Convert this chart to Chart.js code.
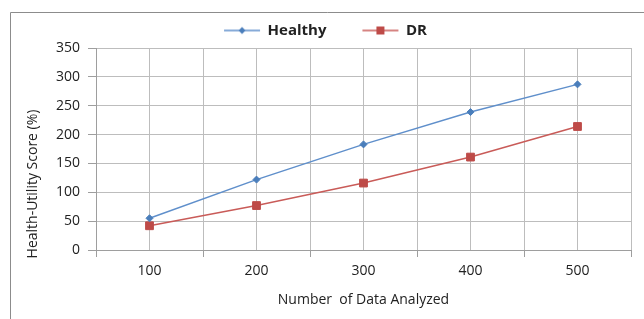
<!DOCTYPE html>
<html>
<head>
<meta charset="utf-8">
<script src="https://cdn.jsdelivr.net/npm/chart.js@4.4.0/dist/chart.umd.min.js"></script>
<style>
  html, body { margin: 0; padding: 0; background: #fff; overflow: hidden; }
</style>
</head>
<body>
<canvas id="chart" width="644" height="319"></canvas>
<script>
// valores
const categories = [100, 200, 300, 400, 500];
const healthyScores = [55, 122, 183, 239, 287];
const drScores = [42, 77, 116, 161, 214];
const seriesNames = ['Healthy', 'DR'];
const xTitle = 'Number  of Data Analyzed';
const yTitle = 'Health-Utility Score (%)';

const FONT = "'Open Sans', 'DejaVu Sans', sans-serif";
const TEXT = '#222';
const GRID = '#bdbdbd';
const AXIS = '#9e9e9e';

// icone da legenda: linha com marcador no meio
// (um pouco mais largo que a caixa, para a linha encostar no texto)
function legendIcon(lineColor, markerColor, shape) {
  const c = document.createElement('canvas');
  c.width = 50; c.height = 12;
  const g = c.getContext('2d');
  g.strokeStyle = lineColor; g.lineWidth = 1.5;
  g.beginPath(); g.moveTo(11, 6); g.lineTo(47, 6); g.stroke();
  g.fillStyle = markerColor;
  g.beginPath();
  if (shape === 'diamond') {
    g.moveTo(29, 2.5); g.lineTo(32.5, 6); g.lineTo(29, 9.5); g.lineTo(25.5, 6);
  } else {
    g.rect(25, 2, 8, 8);
  }
  g.fill();
  return c;
}
const icons = [
  legendIcon('#5f8fcb', '#4a7ebb', 'diamond'),
  legendIcon('#c95b58', '#be4b48', 'square')
];

// moldura externa (só topo e esquerda aparecem)
const framePlugin = {
  id: 'frame',
  beforeDraw(chart) {
    const c = chart.ctx;
    c.save();
    c.strokeStyle = '#8c8c8c';
    c.lineWidth = 1;
    c.beginPath();
    c.moveTo(10.5, 319); c.lineTo(10.5, 12.5); c.lineTo(644, 12.5);
    c.stroke();
    c.restore();
  }
};

// titulo do eixo y, centralizado como no Excel
const yTitlePlugin = {
  id: 'yTitle',
  afterDraw(chart) {
    const c = chart.ctx;
    c.save();
    c.translate(33, 184);
    c.rotate(-Math.PI / 2);
    c.font = `14px ${FONT}`;
    c.fillStyle = TEXT;
    c.textAlign = 'center';
    c.textBaseline = 'middle';
    c.fillText(yTitle, 0, 0);
    c.restore();
  }
};

const toPoints = vals => categories.map((x, i) => ({ x, y: vals[i] }));

new Chart(document.getElementById('chart'), {
  type: 'line',
  data: {
    datasets: [
      {
        label: seriesNames[0],
        data: toPoints(healthyScores),
        borderColor: '#5f8fcb',
        borderWidth: 1.5,
        pointStyle: 'rectRot',
        pointRadius: 3.5,
        pointBackgroundColor: '#4a7ebb',
        pointBorderColor: '#4a7ebb',
        pointBorderWidth: 1,
        tension: 0
      },
      {
        label: seriesNames[1],
        data: toPoints(drScores),
        borderColor: '#c95b58',
        borderWidth: 1.5,
        pointStyle: 'rect',
        pointRadius: 5.5,
        pointBackgroundColor: '#be4b48',
        pointBorderColor: '#be4b48',
        pointBorderWidth: 1,
        tension: 0
      }
    ]
  },
  options: {
    responsive: false,
    animation: false,
    layout: { padding: { left: 12, right: 13, top: -5, bottom: 0 } },
    plugins: {
      tooltip: { enabled: false },
      legend: {
        position: 'top',
        labels: {
          usePointStyle: true,
          pointStyleWidth: 44,
          padding: 28,
          color: TEXT,
          font: { family: FONT, size: 15, weight: 'bold' },
          generateLabels: (chart) => chart.data.datasets.map((ds, i) => ({
            text: ds.label,
            pointStyle: icons[i],
            datasetIndex: i,
            hidden: false,
            fillStyle: 'transparent',
            strokeStyle: 'transparent',
            lineWidth: 0,
            fontColor: TEXT
          }))
        }
      }
    },
    scales: {
      x: {
        type: 'linear',
        min: 50,
        max: 550,
        afterFit: s => { s.height = 69; },
        ticks: {
          stepSize: 50,
          autoSkip: false,
          maxRotation: 0,
          padding: 6,
          color: TEXT,
          font: { family: FONT, size: 14 },
          callback: v => categories.includes(v) ? String(v) : ''
        },
        grid: {
          color: GRID,
          tickLength: 7,
          tickColor: c => (c.tick && categories.includes(c.tick.value)) ? 'rgba(0,0,0,0)' : AXIS
        },
        border: { color: AXIS },
        title: {
          display: true,
          text: xTitle,
          color: TEXT,
          font: { family: FONT, size: 14 },
          padding: { top: 0, bottom: 11 }
        }
      },
      y: {
        min: 0,
        max: 350,
        afterFit: s => { s.width = 84; },
        ticks: {
          stepSize: 50,
          padding: 8,
          color: TEXT,
          font: { family: FONT, size: 14 }
        },
        grid: { color: GRID, tickLength: 8, tickColor: AXIS },
        border: { color: AXIS }
      }
    }
  },
  plugins: [framePlugin, yTitlePlugin]
});
</script>
</body>
</html>
